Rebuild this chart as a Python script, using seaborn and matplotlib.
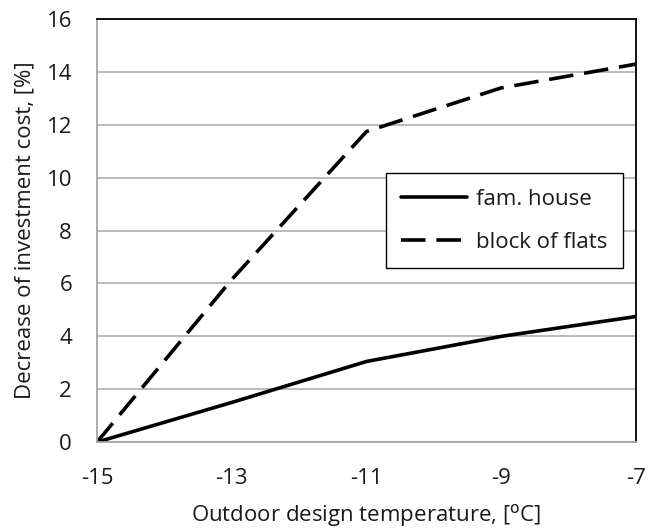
import pandas as pd
import seaborn as sns
import matplotlib.pyplot as plt

# Значения
temperature = [-15, -13, -11, -9, -7]
fam_house = [0.0, 1.5, 3.05, 4.0, 4.75]
block_of_flats = [0.0, 6.15, 11.75, 13.4, 14.3]
x_ticks = [-15, -13, -11, -9, -7]
y_ticks = [0, 2, 4, 6, 8, 10, 12, 14, 16]

df = pd.DataFrame({
    'temp': temperature * 2,
    'value': fam_house + block_of_flats,
    'series': ['fam. house'] * len(temperature) + ['block of flats'] * len(temperature),
})

sns.set_style('white')
plt.rcParams['font.family'] = ['Open Sans', 'DejaVu Sans']
fs = 16

fig = plt.figure(figsize=(6.49, 5.32), dpi=100)
ax = fig.add_axes([0.1495, 0.169, 0.8305, 0.795])

sns.lineplot(data=df, x='temp', y='value', style='series', color='black',
             linewidth=2.6, dashes={'fam. house': '', 'block of flats': (6.8, 3.0)},
             ax=ax)

ax.set_xlim(-15, -7)
ax.set_ylim(0, 16)
ax.set_xticks(x_ticks)
ax.set_yticks(y_ticks)
ax.set_xticklabels([str(t) for t in x_ticks], fontsize=fs, color='#1a1a1a')
ax.set_yticklabels([str(t) for t in y_ticks], fontsize=fs, color='#1a1a1a')
ax.yaxis.grid(True, color='#b4b4b4', linewidth=1.3)
ax.set_axisbelow(True)

ax.spines['left'].set_color('#a6a6a6')
ax.spines['bottom'].set_color('#a6a6a6')
ax.spines['top'].set_color('black')
ax.spines['right'].set_color('black')
for s in ax.spines.values():
    s.set_linewidth(1.3)
ax.tick_params(axis='x', direction='out', length=5, width=1.3, color='#a6a6a6', pad=14)
ax.tick_params(axis='y', length=0, pad=18)

ax.set_xlabel('Outdoor design temperature, [$^{\\rm o}$C]', fontsize=fs, labelpad=9,
              color='#1a1a1a')
ax.set_ylabel('Decrease of investment cost, [%]', fontsize=fs, labelpad=8,
              color='#1a1a1a')

leg = ax.legend(loc='upper left', bbox_to_anchor=(0.536, 0.636), fontsize=fs,
                frameon=True, fancybox=False, handlelength=2.95,
                borderpad=0.7, labelspacing=1.0, handletextpad=0.4,
                borderaxespad=0)
leg.get_frame().set_edgecolor('black')
leg.get_frame().set_linewidth(1.0)
leg.get_frame().set_alpha(1)
for t in leg.get_texts():
    t.set_color('#1a1a1a')

plt.savefig('out.png', dpi=100)
plt.close()
